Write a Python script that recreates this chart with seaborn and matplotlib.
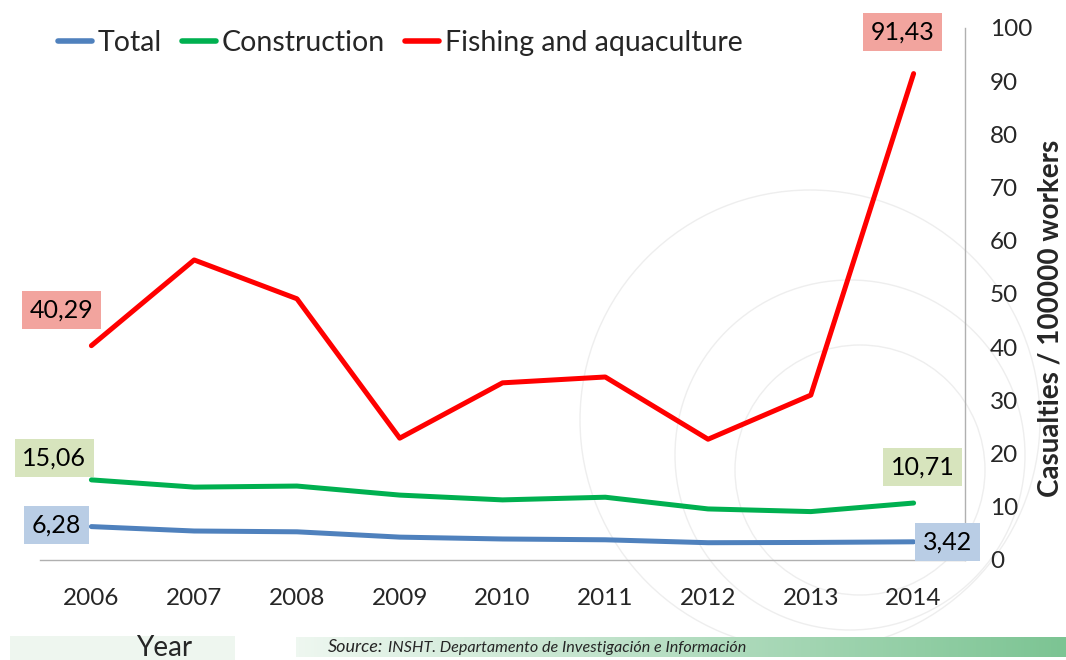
import numpy as np
import pandas as pd
import matplotlib
matplotlib.use("Agg")
import matplotlib.pyplot as plt
from matplotlib.patches import Arc
from matplotlib.lines import Line2D
import seaborn as sns

years = [2006, 2007, 2008, 2009, 2010, 2011, 2012, 2013, 2014]
total = [6.28, 5.45, 5.3, 4.3, 3.95, 3.8, 3.25, 3.3, 3.42]
construction = [15.06, 13.7, 13.9, 12.2, 11.3, 11.8, 9.6, 9.1, 10.71]
fishing = [40.29, 56.4, 49.1, 22.9, 33.3, 34.4, 22.7, 31.0, 91.43]
series_names = ["Total", "Construction", "Fishing and aquaculture"]
series_colors = ["#4f81bd", "#00b050", "#ff0000"]
label_colors = ["#b9cde5", "#d7e4bd", "#f2a49e"]
yticks = [0, 10, 20, 30, 40, 50, 60, 70, 80, 90, 100]

df = pd.DataFrame({
    "Year": years * 3,
    "Value": total + construction + fishing,
    "Series": [s for s in series_names for _ in years],
})

sns.set_theme(style="white")
plt.rcParams["font.family"] = ["Lato", "DejaVu Sans"]

W, H = 1066, 660
fig = plt.figure(figsize=(W / 100, H / 100), dpi=100)

# faint circular watermark behind the plot
bg = fig.add_axes([0, 0, 1, 1], zorder=0)
bg.set_xlim(0, W)
bg.set_ylim(H, 0)
bg.axis("off")
for cx, cy, r in [(810, 420, 230), (850, 455, 175), (860, 470, 125)]:
    bg.add_patch(Arc((cx, cy), 2 * r, 2 * r, theta1=0, theta2=360,
                     color="#eeeeee", lw=1.0))

ax = fig.add_axes([40 / W, 1 - 560 / H, (965 - 40) / W, (560 - 28) / H], zorder=2)
ax.patch.set_alpha(0)
sns.lineplot(data=df, x="Year", y="Value", hue="Series", hue_order=series_names,
             palette=series_colors, linewidth=3.6, legend=False, ax=ax,
             solid_capstyle="round", solid_joinstyle="round")

ax.set_xlim(2005.5, 2014.5)
ax.set_ylim(0, 100)
ax.set_xticks(years)
ax.set_xticklabels([str(y) for y in years], fontsize=17.5)
ax.yaxis.tick_right()
ax.yaxis.set_label_position("right")
ax.set_yticks(yticks)
ax.set_yticklabels([str(t) for t in yticks], fontsize=17.5)
ax.tick_params(axis="x", length=0, pad=20)
ax.tick_params(axis="y", length=0, pad=18)
ax.set_xlabel("")
ax.set_ylabel("Casualties / 100000 workers", fontsize=20, fontweight="bold")
ax.yaxis.set_label_coords((1037 - 40) / (965 - 40), 0.455)
for side in ["left", "top"]:
    ax.spines[side].set_visible(False)
for side in ["right", "bottom"]:
    ax.spines[side].set_color("#b0b0b0")
    ax.spines[side].set_linewidth(1.0)

# value labels at the first and last year
data_by_series = [total, construction, fishing]
offsets = {
    (0, 0): (-35, 2), (0, 1): (34, 0),
    (1, 0): (-37, 22), (1, 1): (9, 36),
    (2, 0): (-30, 36), (2, 1): (-11, 42),
}
for i, vals in enumerate(data_by_series):
    for j, idx in enumerate([0, -1]):
        v = vals[idx]
        ax.annotate(f"{v:.2f}".replace(".", ","), xy=(years[idx], v),
                    xytext=offsets[(i, j)], textcoords="offset pixels",
                    ha="center", va="center", fontsize=18, color="black",
                    bbox=dict(boxstyle="square,pad=0.3", fc=label_colors[i], ec="none"),
                    zorder=5, annotation_clip=False)

handles = [Line2D([0], [0], color=c, lw=4, solid_capstyle="round") for c in series_colors]
fig.legend(handles, series_names, loc="upper left", bbox_to_anchor=(58 / W, 1 - 30 / H),
           ncol=3, frameon=False, fontsize=20.5, handlelength=1.2, handletextpad=0.2,
           columnspacing=0.7, borderaxespad=0, borderpad=0)

# footer: axis title box and source band
foot = fig.add_axes([0, 0, 1, 1], zorder=1)
foot.set_xlim(0, W)
foot.set_ylim(H, 0)
foot.axis("off")
foot.add_patch(plt.Rectangle((10, 636), 225, 24, color="#eef6ef", lw=0))
grad = np.linspace(0, 1, 256)[None, :]
cmap = matplotlib.colors.LinearSegmentedColormap.from_list("band", ["#eef7f0", "#7cc493"])
foot.imshow(grad, cmap=cmap, extent=(296, W, 657, 637), aspect="auto", zorder=1)
foot.set_xlim(0, W)
foot.set_ylim(H, 0)
foot.text(136, 648, "Year", fontsize=20, ha="left", va="center", zorder=2)
foot.text(328, 647, "Source:", fontsize=13, style="italic", ha="left", va="center", zorder=2)
foot.text(388, 648, "INSHT. Departamento de Investigación e Información", fontsize=11.6,
          style="italic", ha="left", va="center", zorder=2)

fig.savefig("out.png", dpi=100)
